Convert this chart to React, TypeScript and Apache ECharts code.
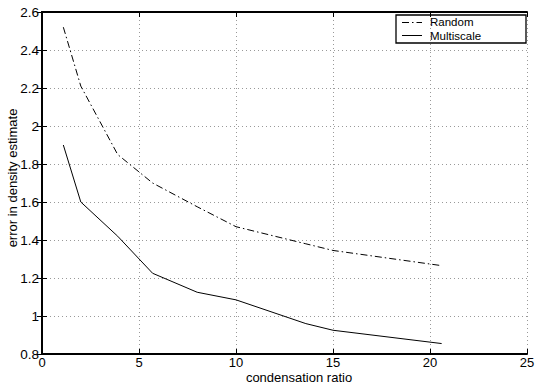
import React, { useEffect, useRef } from "react";
import * as echarts from "echarts";

const ratios = [1.1, 2, 3.9, 5.7, 8, 10, 13.6, 15, 20.6];
const randomErr = [2.52, 2.21, 1.85, 1.7, 1.575, 1.47, 1.38, 1.345, 1.265];
const multiscaleErr = [1.9, 1.6, 1.42, 1.225, 1.125, 1.085, 0.96, 0.925, 0.855];
const seriesNames = ["Random", "Multiscale"];
const xTitle = "condensation ratio";
const yTitle = "error in density estimate";

const FONT = "Liberation Sans, Arial, Helvetica, sans-serif";

export default function App() {
  const ref = useRef<HTMLDivElement>(null);
  useEffect(() => {
    if (!ref.current) return;
    const chart = echarts.init(ref.current, undefined, { renderer: "svg" });
    const axisLine = { show: true, lineStyle: { color: "#000", width: 2 } };
    const tick = { show: true, inside: true, length: 5, lineStyle: { color: "#000", width: 1 } };
    const label = { color: "#000", fontSize: 13.5, fontFamily: FONT };
    const split = { show: true, lineStyle: { color: "#999", type: [1, 3] as any, width: 1 } };
    chart.setOption({
      animation: false,
      backgroundColor: "#fff",
      grid: { left: 42, right: 11, top: 12, bottom: 30, containLabel: false },
      xAxis: [
        {
          type: "value", min: 0, max: 25, interval: 5, position: "bottom",
          axisLine, axisTick: tick, splitLine: split,
          axisLabel: { ...label, fontSize: 13, margin: 2 },
        },
        {
          type: "value", min: 0, max: 25, interval: 5, position: "top",
          axisLine, axisTick: tick, splitLine: { show: false }, axisLabel: { show: false },
        },
      ],
      yAxis: [
        {
          type: "value", min: 0.8, max: 2.6, interval: 0.2, position: "left",
          axisLine, axisTick: tick, splitLine: split,
          axisLabel: { ...label, margin: 3, formatter: (v: number) => String(Math.round(v * 10) / 10) },
        },
        {
          type: "value", min: 0.8, max: 2.6, interval: 0.2, position: "right",
          axisLine, axisTick: tick, splitLine: { show: false }, axisLabel: { show: false },
        },
      ],
      series: [
        {
          name: seriesNames[0], type: "line", showSymbol: false, symbol: "none",
          data: ratios.map((x, i) => [x, randomErr[i]]),
          lineStyle: { color: "#000", width: 1, type: [7, 3, 1.5, 3] },
        },
        {
          name: seriesNames[1], type: "line", showSymbol: false, symbol: "none",
          data: ratios.map((x, i) => [x, multiscaleErr[i]]),
          lineStyle: { color: "#000", width: 1, type: "solid" },
        },
      ],
      graphic: [
        {
          type: "text", x: 299, y: 377,
          style: { text: xTitle, fill: "#000", fontSize: 13, fontFamily: FONT, align: "center", verticalAlign: "middle" },
        },
        {
          type: "text", x: 12, y: 178, rotation: Math.PI / 2,
          style: { text: yTitle, fill: "#000", fontSize: 13, fontFamily: FONT, align: "center", verticalAlign: "middle" },
        },
        {
          type: "rect", shape: { x: 396, y: 15, width: 130, height: 28 },
          style: { fill: "#fff", stroke: "#000", lineWidth: 1.3 },
        },
        {
          type: "line", shape: { x1: 402, y1: 22.5, x2: 422, y2: 22.5 },
          style: { stroke: "#000", lineWidth: 1, lineDash: [7, 3, 1.5, 3] },
        },
        {
          type: "line", shape: { x1: 402, y1: 35.5, x2: 422, y2: 35.5 },
          style: { stroke: "#000", lineWidth: 1 },
        },
        {
          type: "text", x: 430, y: 22,
          style: { text: seriesNames[0], fill: "#000", fontSize: 11.5, fontFamily: FONT, verticalAlign: "middle" },
        },
        {
          type: "text", x: 430, y: 35.5,
          style: { text: seriesNames[1], fill: "#000", fontSize: 11.5, fontFamily: FONT, verticalAlign: "middle" },
        },
      ],
    });
    return () => chart.dispose();
  }, []);
  return <div ref={ref} style={{ position: "fixed", left: 0, top: 0, width: 538, height: 384 }} />;
}
